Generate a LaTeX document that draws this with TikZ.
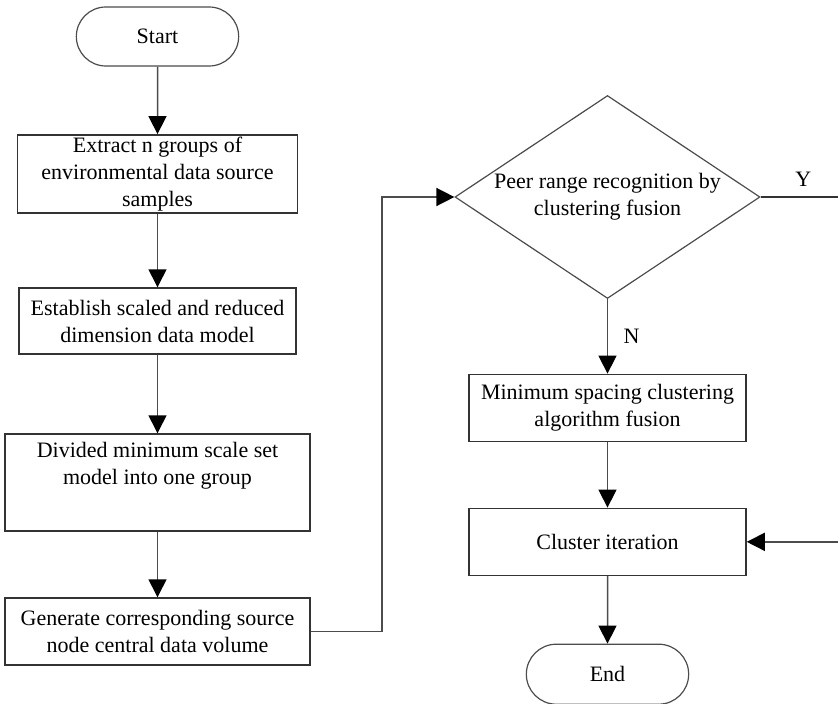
\documentclass[tikz,border=0pt]{standalone}
\usepackage{fontspec}
\setmainfont{Liberation Serif}
\usetikzlibrary{positioning, arrows.meta, shapes.geometric, shapes.misc}

\begin{document}
\begin{tikzpicture}[
  x=1pt, y=1pt,
  every node/.style={font=\fontsize{22}{27}\selectfont},
  box/.style={draw=black!80, line width=1.5pt, minimum width=277pt, minimum height=67pt, align=center, inner sep=2pt},
  term/.style={draw=black!70, line width=1.2pt, rounded rectangle, minimum width=169pt, minimum height=59pt},
  decision/.style={draw=black!70, line width=1.2pt, diamond, aspect=1.5, inner sep=0pt, minimum width=305pt, minimum height=203pt, align=center},
  arrow/.style={line width=1.5pt, draw=black!70, -{Triangle[width=18pt, length=18pt, color=black]}},
  link/.style={line width=1.5pt, draw=black!80}
]
\useasboundingbox (0,0) rectangle (838,-704);

% Left column
\node[term] (start) at (157.5,-36.5) {Start};
\node[box, minimum width=280pt, minimum height=77pt, below=67.5pt of start] (extract) {Extract n groups of\\environmental data source\\samples};
\node[box, minimum height=66pt, below=73.5pt of extract] (establish) {Establish scaled and reduced\\dimension data model};
\node[box, minimum width=305pt, minimum height=97pt, below=78.5pt of establish] (divided) {Divided minimum scale set\\model into one group\\[12pt]};
\node[box, minimum width=305pt, below=65.5pt of divided] (generate) {Generate corresponding source\\node central data volume};

% Right column
\node[decision] (peer) at (607.5,-197) {Peer range recognition by\\clustering fusion};
\node[box, below=74.5pt of peer] (spacing) {Minimum spacing clustering\\algorithm fusion};
\node[box, below=65.5pt of spacing] (iter) {Cluster iteration};
\node[term, minimum height=60pt, below=67.5pt of iter] (end) {End};

% Free ends at the right border
\coordinate (yout) at (838,-197);
\coordinate (loopin) at (iter.east -| yout);

% Connections
\draw[arrow] (start) -- (extract);
\draw[arrow] (extract) -- (establish);
\draw[arrow] (establish) -- (divided);
\draw[arrow] (divided) -- (generate);

\draw[arrow] (generate.east) -- ++(71,0) |- (peer.west);
\draw[arrow] (peer.south) -- node[right=12pt] {N} (spacing.north);
\draw[link] (peer.east) -- node[above=6pt, xshift=4pt] {Y} (yout);

\draw[arrow] (spacing) -- (iter);
\draw[arrow] (loopin) -- (iter.east);
\draw[arrow] (iter) -- (end);

\end{tikzpicture}
\end{document}
